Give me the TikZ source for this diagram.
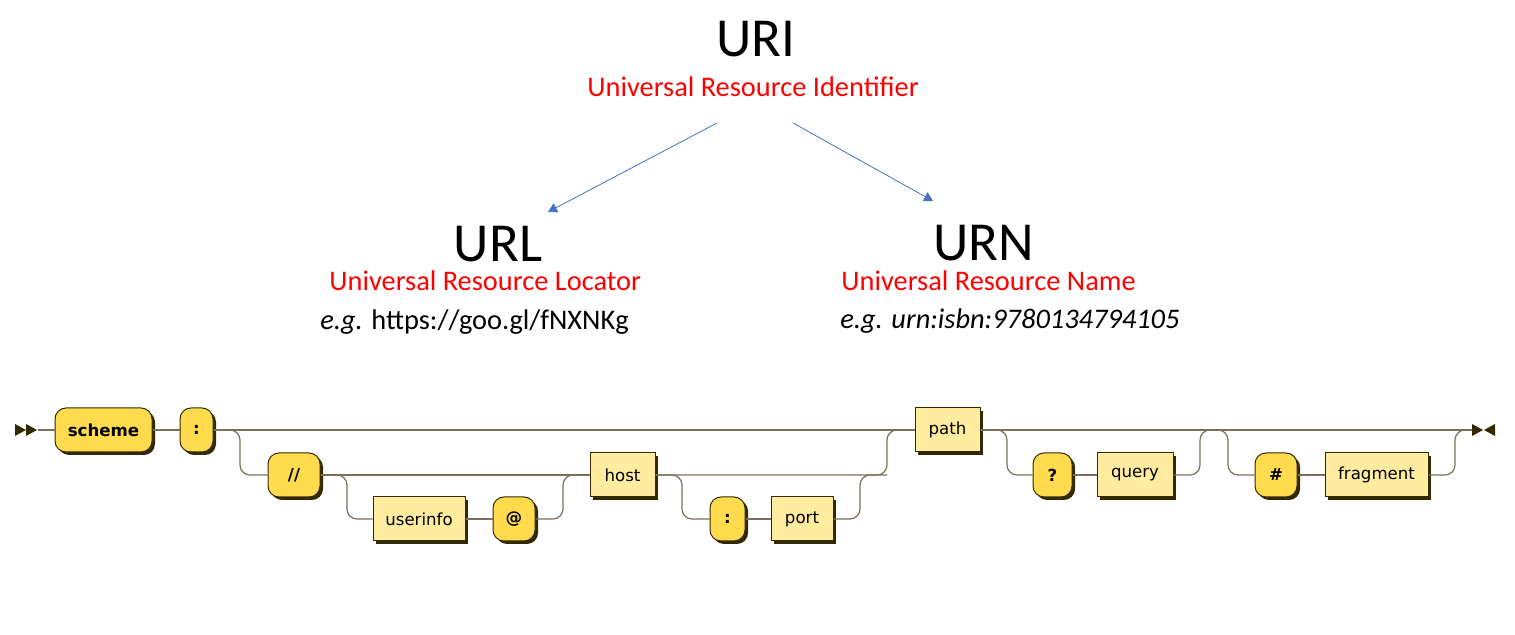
\documentclass[tikz,border=0pt]{standalone}
\usepackage{fontspec}
\setmainfont{Carlito}
\newfontfamily\rrfont{DejaVu Sans}
\usetikzlibrary{arrows.meta,shadows,positioning}
\definecolor{termfill}{HTML}{FFDB4D}
\definecolor{ntfill}{HTML}{FFEC9E}
\definecolor{rrdark}{HTML}{332900}
\definecolor{rrline}{HTML}{78705A}
\definecolor{arrblue}{HTML}{4472C4}
\tikzset{
  rrbox/.style={draw=rrdark, line width=0.5pt, minimum height=22pt, inner sep=0pt, text=black,
    drop shadow={shadow xshift=1.5pt, shadow yshift=-1.5pt, fill=rrdark, opacity=1}},
  term/.style={rrbox, fill=termfill, rounded corners=5.5pt, font=\rrfont\bfseries\fontsize{8.3}{10}\selectfont},
  nonterm/.style={rrbox, fill=ntfill, font=\rrfont\fontsize{8.3}{10}\selectfont},
  rail/.style={draw=rrline, line width=0.6pt, rounded corners=5pt},
  title/.style={inner sep=0pt, anchor=base, font=\fontsize{27.5}{33}\selectfont},
  subtitle/.style={inner sep=0pt, anchor=base west, text=red, font=\fontsize{14.2}{17}\selectfont},
  example/.style={inner sep=0pt, anchor=base west, font=\fontsize{14.2}{17}\selectfont},
  isa/.style={draw=arrblue, line width=0.4pt, -{Triangle[length=4.5pt,width=5pt]}}
}
\begin{document}
\begin{tikzpicture}[x=0.5pt,y=-0.5pt]
  \useasboundingbox (0,0) rectangle (1515,635);

  % names
  \node[title] (uri) at (756,57) {URI};
  \node[subtitle] (urisub) at (587,97) {Universal Resource Identifier};
  \node[title] (url) at (498,262) {URL};
  \node[subtitle] (urlsub) at (329,291) {Universal Resource Locator};
  \node[example] (urlex) at (320,330) {\textit{e.g.} https://goo.gl/fNXNKg};
  \node[title] (urn) at (984,261) {URN};
  \node[subtitle] (urnsub) at (841,291) {Universal Resource Name};
  \node[example] (urnex) at (840,329) {\textit{e.g. urn:isbn:9780134794105}};

  \coordinate (fromL) at (717,123);
  \coordinate (toL) at (548,212);
  \coordinate (fromR) at (793,123);
  \coordinate (toR) at (933,201);
  \draw[isa] (fromL) -- (toL);
  \draw[isa] (fromR) -- (toR);

  % railroad boxes
  \node[term, minimum width=48.5pt] (scheme) at (103.5,430) {scheme};
  \node[term, minimum width=16.5pt] (colon) at (196.5,430) {:};
  \node[term, minimum width=26pt] (slashes) at (294,475) {//};
  \node[nonterm, minimum width=46pt] (userinfo) at (419,519) {userinfo};
  \node[term, minimum width=21pt] (at) at (514,519) {@};
  \node[nonterm, minimum width=32.5pt] (host) at (622.5,475) {host};
  \node[term, minimum width=17.5pt] (colonb) at (727.5,519) {:};
  \node[nonterm, minimum width=31pt] (port) at (802,519) {port};
  \node[nonterm, minimum width=32.5pt] (path) at (947.5,430) {path};
  \node[term, minimum width=19.5pt] (qmark) at (1052.5,475) {?};
  \node[nonterm, minimum width=38pt] (query) at (1135,475) {query};
  \node[term, minimum width=21pt] (hash) at (1276,475) {\#};
  \node[nonterm, minimum width=51.5pt] (fragment) at (1376.5,475) {fragment};

  % start and end marks
  \coordinate (start) at (38,430);
  \coordinate (finish) at (1472,430);
  \fill[rrdark] (15,424) -- (26,430) -- (15,436) -- cycle (26,424) -- (37,430) -- (26,436) -- cycle;
  \fill[rrdark] (1472,424) -- (1483,430) -- (1472,436) -- cycle (1495,424) -- (1484,430) -- (1495,436) -- cycle;

  % junctions
  \coordinate (d1) at (240,430);
  \coordinate (d2) at (347,475);
  \coordinate (r1) at (563,475);
  \coordinate (d3) at (682,475);
  \coordinate (r2) at (860,475);
  \coordinate (r3) at (887,475);
  \coordinate (d4) at (1007,430);
  \coordinate (r4) at (1200,430);
  \coordinate (d5) at (1228,430);
  \coordinate (r5) at (1455,430);

  % rails
  \draw[rail] (start) -- (scheme.west);
  \draw[rail] (scheme.east) -- (colon.west);
  \draw[rail] (colon.east) -- (path.west);
  \draw[rail] (colon.east) -- (d1) |- (slashes.west);
  \draw[rail] (slashes.east) -- (host.west);
  \draw[rail] (slashes.east) -- (d2) |- (userinfo.west);
  \draw[rail] (userinfo.east) -- (at.west);
  \draw[rail] (at.east) -| (r1) -- (host.west);
  \draw[rail] (host.east) -- (r3) |- (path.west);
  \draw[rail] (host.east) -- (d3) |- (colonb.west);
  \draw[rail] (colonb.east) -- (port.west);
  \draw[rail] (port.east) -| (r2) -- (r3);
  \draw[rail] (path.east) -- (finish);
  \draw[rail] (path.east) -- (d4) |- (qmark.west);
  \draw[rail] (qmark.east) -- (query.west);
  \draw[rail] (query.east) -| (r4) -- (d5) |- (hash.west);
  \draw[rail] (hash.east) -- (fragment.west);
  \draw[rail] (fragment.east) -| (r5) -- (finish);
\end{tikzpicture}
\end{document}
